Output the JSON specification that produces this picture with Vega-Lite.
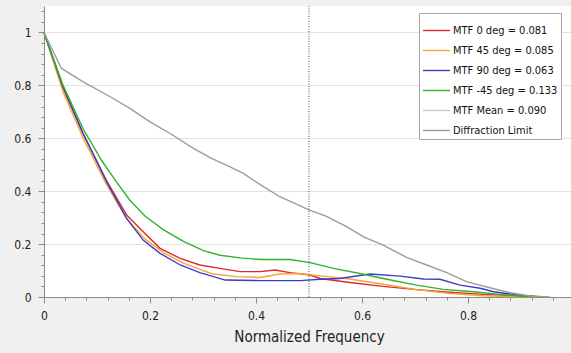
{
  "$schema": "https://vega.github.io/schema/vega-lite/v6.json",
  "width": 530,
  "height": 291,
  "autosize": {"type": "none"},
  "padding": {"left": 44, "top": 6, "right": 0, "bottom": 56},
  "background": "#f0f0f0",
  "config": {
    "view": {"stroke": null, "fill": "white"},
    "font": "DejaVu Sans Condensed",
    "axis": {
      "labelFont": "DejaVu Sans Condensed",
      "titleFont": "DejaVu Sans Condensed",
      "labelFontSize": 12,
      "labelColor": "#222222",
      "domainColor": "#8a8a8a",
      "tickColor": "#8a8a8a",
      "gridColor": "#e2e2e2",
      "titleFontWeight": "normal",
      "titleColor": "#222222",
      "labelOverlap": false
    }
  },
  "datasets": {
    "curves": [
      {"s": "MTF 0 deg = 0.081", "x": 0, "y": 1},
      {"s": "MTF 0 deg = 0.081", "x": 0.036, "y": 0.79},
      {"s": "MTF 0 deg = 0.081", "x": 0.074, "y": 0.615},
      {"s": "MTF 0 deg = 0.081", "x": 0.118, "y": 0.44},
      {"s": "MTF 0 deg = 0.081", "x": 0.156, "y": 0.31},
      {"s": "MTF 0 deg = 0.081", "x": 0.181, "y": 0.259},
      {"s": "MTF 0 deg = 0.081", "x": 0.219, "y": 0.184},
      {"s": "MTF 0 deg = 0.081", "x": 0.257, "y": 0.146},
      {"s": "MTF 0 deg = 0.081", "x": 0.294, "y": 0.121},
      {"s": "MTF 0 deg = 0.081", "x": 0.332, "y": 0.108},
      {"s": "MTF 0 deg = 0.081", "x": 0.37, "y": 0.096},
      {"s": "MTF 0 deg = 0.081", "x": 0.408, "y": 0.096},
      {"s": "MTF 0 deg = 0.081", "x": 0.436, "y": 0.102},
      {"s": "MTF 0 deg = 0.081", "x": 0.464, "y": 0.092},
      {"s": "MTF 0 deg = 0.081", "x": 0.502, "y": 0.083},
      {"s": "MTF 0 deg = 0.081", "x": 0.521, "y": 0.07},
      {"s": "MTF 0 deg = 0.081", "x": 0.577, "y": 0.055},
      {"s": "MTF 0 deg = 0.081", "x": 0.64, "y": 0.04},
      {"s": "MTF 0 deg = 0.081", "x": 0.703, "y": 0.028},
      {"s": "MTF 0 deg = 0.081", "x": 0.766, "y": 0.018},
      {"s": "MTF 0 deg = 0.081", "x": 0.828, "y": 0.01},
      {"s": "MTF 0 deg = 0.081", "x": 0.892, "y": 0.004},
      {"s": "MTF 0 deg = 0.081", "x": 0.95, "y": 0},

      {"s": "MTF 45 deg = 0.085", "x": 0, "y": 1},
      {"s": "MTF 45 deg = 0.085", "x": 0.036, "y": 0.775},
      {"s": "MTF 45 deg = 0.085", "x": 0.074, "y": 0.6},
      {"s": "MTF 45 deg = 0.085", "x": 0.118, "y": 0.425},
      {"s": "MTF 45 deg = 0.085", "x": 0.156, "y": 0.295},
      {"s": "MTF 45 deg = 0.085", "x": 0.19, "y": 0.22},
      {"s": "MTF 45 deg = 0.085", "x": 0.225, "y": 0.168},
      {"s": "MTF 45 deg = 0.085", "x": 0.263, "y": 0.128},
      {"s": "MTF 45 deg = 0.085", "x": 0.3, "y": 0.1},
      {"s": "MTF 45 deg = 0.085", "x": 0.319, "y": 0.087},
      {"s": "MTF 45 deg = 0.085", "x": 0.364, "y": 0.077},
      {"s": "MTF 45 deg = 0.085", "x": 0.408, "y": 0.074},
      {"s": "MTF 45 deg = 0.085", "x": 0.445, "y": 0.087},
      {"s": "MTF 45 deg = 0.085", "x": 0.483, "y": 0.089},
      {"s": "MTF 45 deg = 0.085", "x": 0.521, "y": 0.08},
      {"s": "MTF 45 deg = 0.085", "x": 0.577, "y": 0.068},
      {"s": "MTF 45 deg = 0.085", "x": 0.64, "y": 0.048},
      {"s": "MTF 45 deg = 0.085", "x": 0.703, "y": 0.028},
      {"s": "MTF 45 deg = 0.085", "x": 0.766, "y": 0.013},
      {"s": "MTF 45 deg = 0.085", "x": 0.828, "y": 0.005},
      {"s": "MTF 45 deg = 0.085", "x": 0.892, "y": 0.001},
      {"s": "MTF 45 deg = 0.085", "x": 0.95, "y": 0},

      {"s": "MTF 90 deg = 0.063", "x": 0, "y": 1},
      {"s": "MTF 90 deg = 0.063", "x": 0.036, "y": 0.794},
      {"s": "MTF 90 deg = 0.063", "x": 0.074, "y": 0.618},
      {"s": "MTF 90 deg = 0.063", "x": 0.118, "y": 0.436},
      {"s": "MTF 90 deg = 0.063", "x": 0.156, "y": 0.297},
      {"s": "MTF 90 deg = 0.063", "x": 0.187, "y": 0.215},
      {"s": "MTF 90 deg = 0.063", "x": 0.219, "y": 0.165},
      {"s": "MTF 90 deg = 0.063", "x": 0.257, "y": 0.121},
      {"s": "MTF 90 deg = 0.063", "x": 0.294, "y": 0.092},
      {"s": "MTF 90 deg = 0.063", "x": 0.342, "y": 0.064},
      {"s": "MTF 90 deg = 0.063", "x": 0.408, "y": 0.062},
      {"s": "MTF 90 deg = 0.063", "x": 0.483, "y": 0.062},
      {"s": "MTF 90 deg = 0.063", "x": 0.521, "y": 0.067},
      {"s": "MTF 90 deg = 0.063", "x": 0.558, "y": 0.07},
      {"s": "MTF 90 deg = 0.063", "x": 0.615, "y": 0.087},
      {"s": "MTF 90 deg = 0.063", "x": 0.672, "y": 0.079},
      {"s": "MTF 90 deg = 0.063", "x": 0.716, "y": 0.068},
      {"s": "MTF 90 deg = 0.063", "x": 0.747, "y": 0.067},
      {"s": "MTF 90 deg = 0.063", "x": 0.785, "y": 0.045},
      {"s": "MTF 90 deg = 0.063", "x": 0.823, "y": 0.033},
      {"s": "MTF 90 deg = 0.063", "x": 0.848, "y": 0.02},
      {"s": "MTF 90 deg = 0.063", "x": 0.892, "y": 0.008},
      {"s": "MTF 90 deg = 0.063", "x": 0.94, "y": 0},

      {"s": "MTF -45 deg = 0.133", "x": 0, "y": 1},
      {"s": "MTF -45 deg = 0.133", "x": 0.036, "y": 0.8},
      {"s": "MTF -45 deg = 0.133", "x": 0.074, "y": 0.635},
      {"s": "MTF -45 deg = 0.133", "x": 0.109, "y": 0.515},
      {"s": "MTF -45 deg = 0.133", "x": 0.135, "y": 0.44},
      {"s": "MTF -45 deg = 0.133", "x": 0.162, "y": 0.366},
      {"s": "MTF -45 deg = 0.133", "x": 0.191, "y": 0.305},
      {"s": "MTF -45 deg = 0.133", "x": 0.225, "y": 0.255},
      {"s": "MTF -45 deg = 0.133", "x": 0.263, "y": 0.21},
      {"s": "MTF -45 deg = 0.133", "x": 0.301, "y": 0.175},
      {"s": "MTF -45 deg = 0.133", "x": 0.332, "y": 0.158},
      {"s": "MTF -45 deg = 0.133", "x": 0.37, "y": 0.148},
      {"s": "MTF -45 deg = 0.133", "x": 0.408, "y": 0.142},
      {"s": "MTF -45 deg = 0.133", "x": 0.464, "y": 0.142},
      {"s": "MTF -45 deg = 0.133", "x": 0.502, "y": 0.13},
      {"s": "MTF -45 deg = 0.133", "x": 0.546, "y": 0.108},
      {"s": "MTF -45 deg = 0.133", "x": 0.596, "y": 0.089},
      {"s": "MTF -45 deg = 0.133", "x": 0.647, "y": 0.067},
      {"s": "MTF -45 deg = 0.133", "x": 0.703, "y": 0.045},
      {"s": "MTF -45 deg = 0.133", "x": 0.753, "y": 0.029},
      {"s": "MTF -45 deg = 0.133", "x": 0.81, "y": 0.02},
      {"s": "MTF -45 deg = 0.133", "x": 0.86, "y": 0.01},
      {"s": "MTF -45 deg = 0.133", "x": 0.911, "y": 0.001},
      {"s": "MTF -45 deg = 0.133", "x": 0.95, "y": 0},

      {"s": "Diffraction Limit", "x": 0, "y": 1},
      {"s": "Diffraction Limit", "x": 0.033, "y": 0.864},
      {"s": "Diffraction Limit", "x": 0.074, "y": 0.813},
      {"s": "Diffraction Limit", "x": 0.125, "y": 0.757},
      {"s": "Diffraction Limit", "x": 0.162, "y": 0.713},
      {"s": "Diffraction Limit", "x": 0.2, "y": 0.662},
      {"s": "Diffraction Limit", "x": 0.238, "y": 0.618},
      {"s": "Diffraction Limit", "x": 0.282, "y": 0.562},
      {"s": "Diffraction Limit", "x": 0.316, "y": 0.524},
      {"s": "Diffraction Limit", "x": 0.351, "y": 0.492},
      {"s": "Diffraction Limit", "x": 0.376, "y": 0.467},
      {"s": "Diffraction Limit", "x": 0.408, "y": 0.425},
      {"s": "Diffraction Limit", "x": 0.445, "y": 0.379},
      {"s": "Diffraction Limit", "x": 0.5, "y": 0.329},
      {"s": "Diffraction Limit", "x": 0.533, "y": 0.305},
      {"s": "Diffraction Limit", "x": 0.571, "y": 0.266},
      {"s": "Diffraction Limit", "x": 0.602, "y": 0.228},
      {"s": "Diffraction Limit", "x": 0.64, "y": 0.196},
      {"s": "Diffraction Limit", "x": 0.684, "y": 0.15},
      {"s": "Diffraction Limit", "x": 0.722, "y": 0.121},
      {"s": "Diffraction Limit", "x": 0.76, "y": 0.092},
      {"s": "Diffraction Limit", "x": 0.797, "y": 0.058},
      {"s": "Diffraction Limit", "x": 0.845, "y": 0.033},
      {"s": "Diffraction Limit", "x": 0.88, "y": 0.016},
      {"s": "Diffraction Limit", "x": 0.92, "y": 0.003},
      {"s": "Diffraction Limit", "x": 0.955, "y": 0}
    ],
    "marker": [{"x": 0.5}]
  },
  "encoding": {
    "x": {
      "field": "x", "type": "quantitative",
      "scale": {"domain": [0, 1], "nice": false, "zero": false},
      "axis": {
        "orient": "bottom",
        "title": "Normalized Frequency",
        "titleFontSize": 15,
        "titlePadding": 8,
        "values": [0, 0.04, 0.08, 0.12, 0.16, 0.2, 0.24, 0.28, 0.32, 0.36, 0.4, 0.44, 0.48, 0.52, 0.56, 0.6, 0.64, 0.68, 0.72, 0.76, 0.8, 0.84, 0.88, 0.92, 0.96, 1],
        "format": ".2~f",
        "labelExpr": "abs(datum.value*5 - round(datum.value*5)) < 0.001 ? datum.label : ''",
        "labelOverlap": false,
        "labelFlush": false,
        "labelPadding": 7,
        "grid": false,
        "tickSize": {"condition": {"test": "abs(datum.value*5 - round(datum.value*5)) < 0.001", "value": 6}, "value": 3}
      }
    }
  },
  "layer": [
    {
      "data": {"name": "curves"},
      "mark": {"type": "line", "strokeWidth": 1.4},
      "encoding": {
        "y": {
          "field": "y", "type": "quantitative",
          "scale": {"domain": [0, 1.1], "nice": false, "zero": false},
          "axis": {
            "orient": "left",
            "title": null,
            "values": [0, 0.04, 0.08, 0.12, 0.16, 0.2, 0.24, 0.28, 0.32, 0.36, 0.4, 0.44, 0.48, 0.52, 0.56, 0.6, 0.64, 0.68, 0.72, 0.76, 0.8, 0.84, 0.88, 0.92, 0.96, 1, 1.04, 1.08],
            "format": ".2~f",
            "labelExpr": "abs(datum.value*5 - round(datum.value*5)) < 0.001 ? datum.label : ''",
            "labelOverlap": false,
            "labelFlush": false,
            "labelPadding": 7,
            "grid": true,
            "gridOpacity": {"condition": {"test": "abs(datum.value*5 - round(datum.value*5)) < 0.001", "value": 1}, "value": 0},
            "tickSize": {"condition": {"test": "abs(datum.value*5 - round(datum.value*5)) < 0.001", "value": 6}, "value": 3}
          }
        },
        "color": {
          "field": "s", "type": "nominal",
          "scale": {
            "domain": ["MTF 0 deg = 0.081", "MTF 45 deg = 0.085", "MTF 90 deg = 0.063", "MTF -45 deg = 0.133", "MTF Mean = 0.090", "Diffraction Limit"],
            "range": ["#e02a2a", "#f2a63a", "#3d3dc4", "#2db42d", "#c8c8c8", "#9c9c9c"]
          },
          "legend": {
            "orient": "none",
            "legendX": 375,
            "legendY": 7,
            "title": null,
            "symbolType": "stroke",
            "symbolSize": 729,
            "symbolStrokeWidth": 1.4,
            "labelFontSize": 11,
            "labelFont": "DejaVu Sans Condensed",
            "labelColor": "#111111",
            "labelLimit": 250,
            "labelOffset": 2,
            "fillColor": "white",
            "strokeColor": "#a8a8a8",
            "padding": 3,
            "rowPadding": -7
          }
        },
        "order": {"field": "x", "type": "quantitative"}
      }
    },
    {
      "data": {"name": "marker"},
      "mark": {"type": "rule", "color": "#505050", "strokeWidth": 1, "strokeDash": [1, 1.5]},
      "encoding": {}
    }
  ]
}
